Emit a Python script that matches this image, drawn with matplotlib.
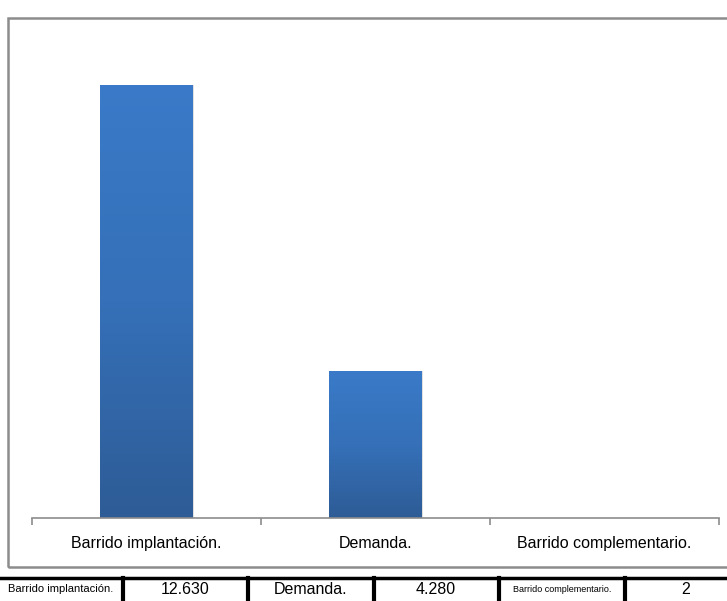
import matplotlib
matplotlib.use("Agg")
import matplotlib.pyplot as plt
import numpy as np
from matplotlib.colors import LinearSegmentedColormap
from matplotlib.patches import Rectangle
from matplotlib.lines import Line2D
from matplotlib import font_manager

names = {f.name for f in font_manager.fontManager.ttflist}
narrow = 'Liberation Sans Narrow' in names
plt.rcParams['font.family'] = (['Liberation Sans Narrow'] if narrow else []) + ['Liberation Sans', 'DejaVu Sans']
k = 1.2 if narrow else 1.0

categories = ["Barrido implantación.", "Demanda.", "Barrido complementario."]
values = [12630, 4280, 2]
value_labels = ["12.630", "4.280", "2"]
ymax = 14000

W, H = 727, 601
fig = plt.figure(figsize=(W / 100, H / 100), dpi=100)

def fx(px):
    return px / W

def fy(py):
    return 1 - py / H

# outer chart frame
fig.add_artist(Rectangle((fx(8), fy(567)), fx(740) - fx(8), fy(18) - fy(567),
                         transform=fig.transFigure, fill=False,
                         edgecolor='#8c8c8c', linewidth=1.8))

ax = fig.add_axes([fx(32), fy(518), fx(719) - fx(32), fy(38) - fy(518)])
ax.set_xlim(-0.5, len(categories) - 0.5)
ax.set_ylim(0, ymax)
for s in ['top', 'left', 'right']:
    ax.spines[s].set_visible(False)
ax.spines['bottom'].set_color('#8c8c8c')
ax.spines['bottom'].set_linewidth(1.2)
ax.set_yticks([])

x = np.arange(len(categories))
ax.set_xticks(x)
ax.set_xticklabels(categories, fontsize=11.5 * k)
ax.tick_params(axis='x', which='major', length=0, pad=13)
ax.set_xticks(np.arange(len(categories) + 1) - 0.5, minor=True)
ax.tick_params(axis='x', which='minor', length=5, color='#8c8c8c', width=1.2)

cmap = LinearSegmentedColormap.from_list('bar', ['#2e5c96', '#3570b8', '#3a7ac8'])
grad = np.linspace(0, 1, 256).reshape(-1, 1)
bw = 0.406
bars = ax.bar(x, values, width=bw, color='none', edgecolor='none')
for b, v in zip(bars, values):
    x0 = b.get_x()
    sh = Rectangle((x0 + 0.004, 0), bw, v, facecolor='#000000', alpha=0.12,
                   edgecolor='none', zorder=1)
    ax.add_patch(sh)
    im = ax.imshow(grad, extent=[x0, x0 + bw, 0, v], origin='lower',
                   cmap=cmap, aspect='auto', zorder=2)
    im.set_clip_path(b)
ax.set_xlim(-0.5, len(categories) - 0.5)
ax.set_ylim(0, ymax)

# bottom data table
fig.add_artist(Line2D([0, 1], [fy(578), fy(578)], transform=fig.transFigure,
                      color='black', linewidth=2.5))
seps = [123, 248, 374, 499, 625]
for sx in seps:
    fig.add_artist(Line2D([fx(sx), fx(sx)], [fy(578), fy(601)],
                          transform=fig.transFigure, color='black', linewidth=3))

cells = []
for c, vl in zip(categories, value_labels):
    cells.append(c)
    cells.append(vl)
centers = [61, 185, 311, 436, 562, 686]
sizes = [8, 11.5, 11.5, 11.5, 6.5, 11.5]
for t, cx, fs in zip(cells, centers, sizes):
    fig.text(fx(cx), fy(589), t, ha='center', va='center', fontsize=fs * k)

fig.savefig('out.png', dpi=100)
